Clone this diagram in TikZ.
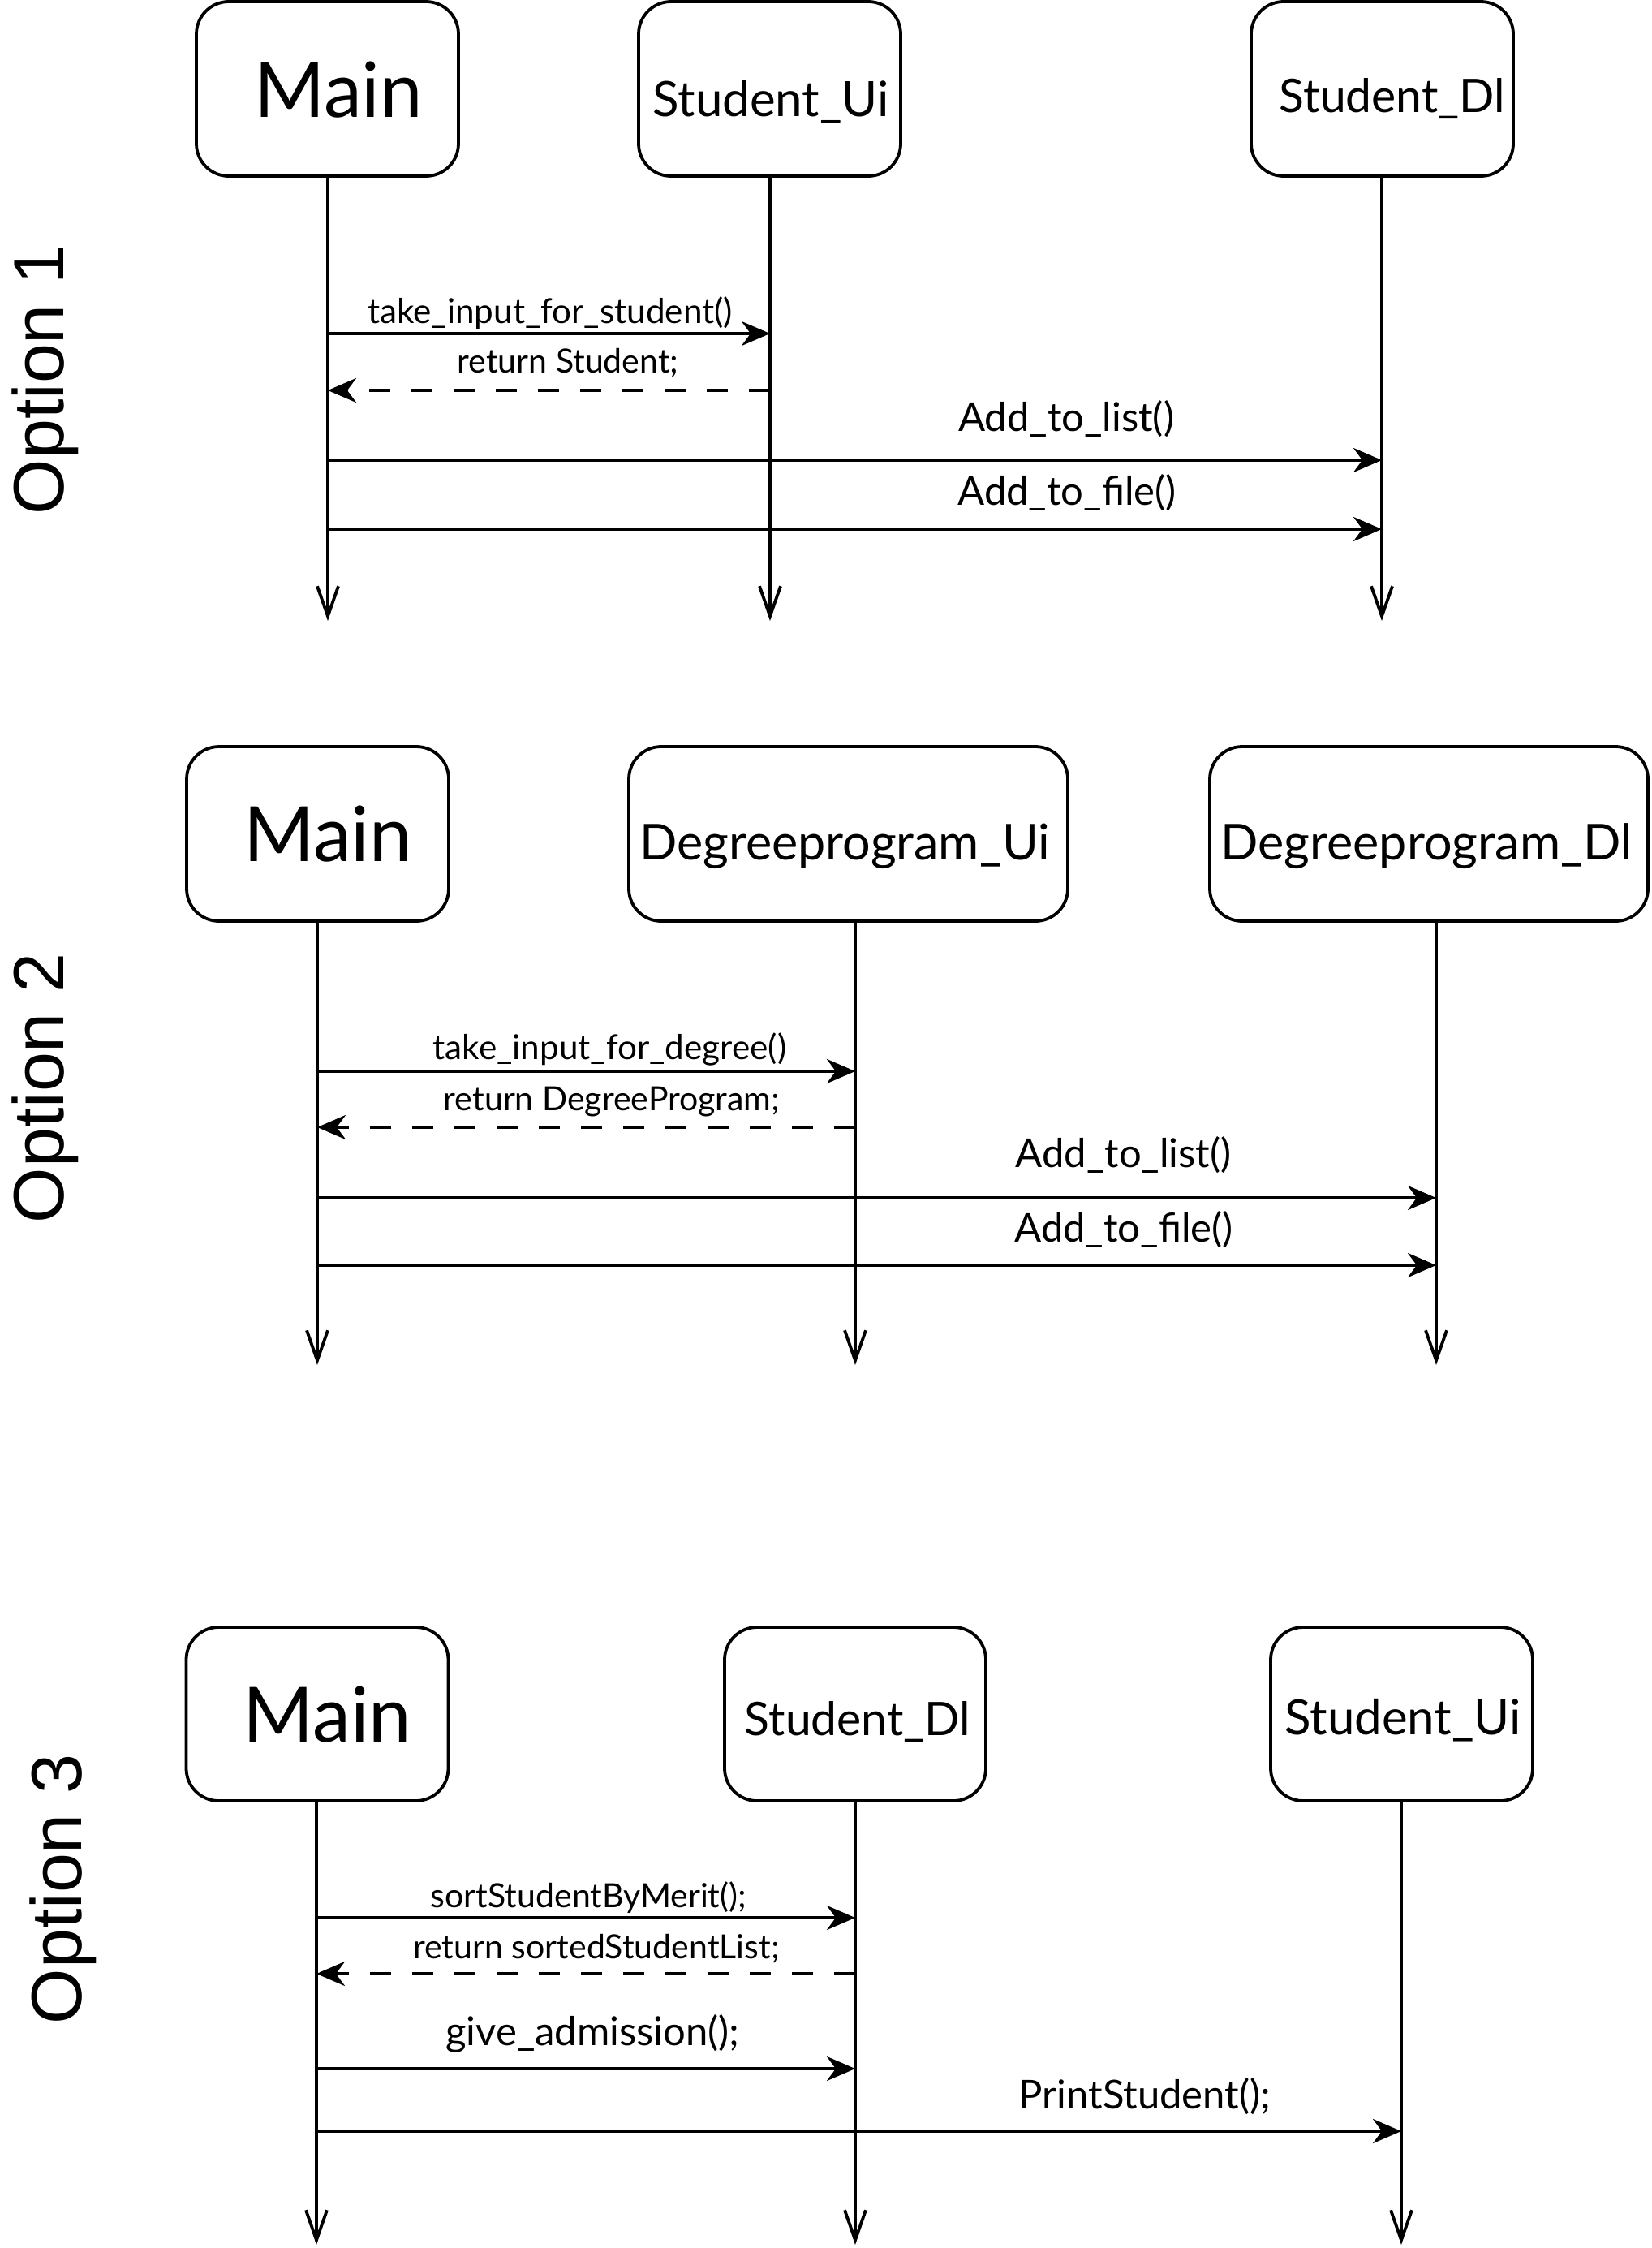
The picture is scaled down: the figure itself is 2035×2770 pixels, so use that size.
\documentclass[tikz,border=0pt]{standalone}
\usepackage{fontspec}
\setmainfont{Lato}
\newfontfamily\optfont{Liberation Sans}
\usetikzlibrary{arrows.meta}
\begin{document}
\begin{tikzpicture}[x=1pt,y=-1pt,
  box/.style={draw, line width=3.8pt, rounded corners=40pt, minimum width=323pt, minimum height=215pt, inner sep=0pt},
  widebox/.style={box, minimum width=541pt},
  life/.style={line width=3.8pt, -{Straight Barb[length=37pt,width=26pt]}},
  msg/.style={line width=3.8pt, -{Stealth[length=35pt,width=30pt,inset=11pt]}},
  ret/.style={msg, dash pattern=on 26pt off 26pt},
  bigname/.style={anchor=base, inner sep=0pt, font=\fontsize{94}{104}\selectfont},
  objname/.style={anchor=base, inner sep=0pt, font=\fontsize{60}{68}\selectfont},
  dlname/.style={anchor=base, inner sep=0pt, font=\fontsize{57}{64}\selectfont},
  degname/.style={anchor=base, inner sep=0pt, font=\fontsize{61}{68}\selectfont},
  lblsmall/.style={anchor=base, inner sep=0pt, font=\fontsize{41}{48}\selectfont},
  lblsmallw/.style={anchor=base, inner sep=0pt, font=\fontsize{42.2}{48}\selectfont},
  lbllarge/.style={anchor=base, inner sep=0pt, font=\fontsize{49}{56}\selectfont},
  optlbl/.style={anchor=base, inner sep=0pt, rotate=90, font=\optfont\fontsize{88}{96}\selectfont}
]
\useasboundingbox (0,0) rectangle (2035,2770);

% ---------------- Option 1 ----------------
\node[optlbl] (o1) at (78,468) {Option 1};
\node[box] (main1) at (403.5,109.5) {};
\node[box] (sui1) at (948.5,109.5) {};
\node[box] (sdl1) at (1703.5,109.5) {};
\node[bigname] (tmain1) at (417,144) {Main};
\node[objname] (tsui1) at (950,143) {Student\_Ui};
\node[dlname] (tsdl1) at (1716,138) {Student\_Dl};
\coordinate (main1end) at (404,765);
\coordinate (sui1end) at (949,765);
\coordinate (sdl1end) at (1703,765);
\draw[life] (main1end |- main1.south) -- (main1end);
\draw[life] (sui1end |- sui1.south) -- (sui1end);
\draw[life] (sdl1end |- sdl1.south) -- (sdl1end);
\coordinate (a1s) at (404,411); \coordinate (a1e) at (949,411);
\coordinate (a2s) at (949,481); \coordinate (a2e) at (404,481);
\coordinate (a3s) at (404,567); \coordinate (a3e) at (1703,567);
\coordinate (a4s) at (404,652); \coordinate (a4e) at (1703,652);
\draw[msg] (a1s) -- (a1e);
\draw[ret] (a2s) -- (a2e);
\draw[msg] (a3s) -- (a3e);
\draw[msg] (a4s) -- (a4e);
\node[lblsmallw] (l1) at (678,398) {take\_input\_for\_student()};
\node[lblsmall] (l2) at (700,459) {return Student;};
\node[lbllarge] (l3) at (1314,531) {Add\_to\_list()};
\node[lbllarge] (l4) at (1315,622) {Add\_to\_file()};

% ---------------- Option 2 ----------------
\node[optlbl] (o2) at (78,1341) {Option 2};
\node[box] (main2) at (391.5,1027.5) {};
\node[widebox] (dui2) at (1045.5,1027.5) {};
\node[widebox, minimum width=540pt] (ddl2) at (1761,1027.5) {};
\node[bigname] (tmain2) at (404,1061) {Main};
\node[degname] (tdui2) at (1041,1059) {Degreeprogram\_Ui};
\node[degname] (tddl2) at (1758,1059) {Degreeprogram\_Dl};
\coordinate (main2end) at (391,1682);
\coordinate (dui2end) at (1054,1682);
\coordinate (ddl2end) at (1770,1682);
\draw[life] (main2end |- main2.south) -- (main2end);
\draw[life] (dui2end |- dui2.south) -- (dui2end);
\draw[life] (ddl2end |- ddl2.south) -- (ddl2end);
\coordinate (b1s) at (391,1320); \coordinate (b1e) at (1054,1320);
\coordinate (b2s) at (1054,1389); \coordinate (b2e) at (391,1389);
\coordinate (b3s) at (391,1476); \coordinate (b3e) at (1770,1476);
\coordinate (b4s) at (391,1559); \coordinate (b4e) at (1770,1559);
\draw[msg] (b1s) -- (b1e);
\draw[ret] (b2s) -- (b2e);
\draw[msg] (b3s) -- (b3e);
\draw[msg] (b4s) -- (b4e);
\node[lblsmallw] (m1) at (751.5,1305) {take\_input\_for\_degree()};
\node[lblsmall] (m2) at (754,1368) {return DegreeProgram;};
\node[lbllarge] (m3) at (1384.5,1438) {Add\_to\_list()};
\node[lbllarge] (m4) at (1385,1530) {Add\_to\_file()};

% ---------------- Option 3 ----------------
\node[optlbl] (o3) at (100,2328) {Option 3};
\node[box, minimum height=214pt] (main3) at (391,2112) {};
\node[box, minimum width=322pt, minimum height=214pt] (sdl3) at (1054,2112) {};
\node[box, minimum height=214pt] (sui3) at (1727.5,2112) {};
\node[bigname] (tmain3) at (403.5,2146) {Main};
\node[dlname] (tsdl3) at (1057,2138) {Student\_Dl};
\node[objname] (tsui3) at (1729,2137) {Student\_Ui};
\coordinate (main3end) at (390,2766);
\coordinate (sdl3end) at (1054,2766);
\coordinate (sui3end) at (1727,2766);
\draw[life] (main3end |- main3.south) -- (main3end);
\draw[life] (sdl3end |- sdl3.south) -- (sdl3end);
\draw[life] (sui3end |- sui3.south) -- (sui3end);
\coordinate (c1s) at (390,2363); \coordinate (c1e) at (1054,2363);
\coordinate (c2s) at (1054,2432); \coordinate (c2e) at (390,2432);
\coordinate (c3s) at (392,2549); \coordinate (c3e) at (1054,2549);
\coordinate (c4s) at (392,2626); \coordinate (c4e) at (1727,2626);
\draw[msg] (c1s) -- (c1e);
\draw[ret] (c2s) -- (c2e);
\draw[msg] (c3s) -- (c3e);
\draw[msg] (c4s) -- (c4e);
\node[lblsmall] (n1) at (725.5,2350) {sortStudentByMerit();};
\node[lblsmall] (n2) at (735,2413) {return sortedStudentList;};
\node[lbllarge] (n3) at (730.5,2520) {give\_admission();};
\node[lbllarge] (n4) at (1411,2598) {PrintStudent();};
\end{tikzpicture}
\end{document}
